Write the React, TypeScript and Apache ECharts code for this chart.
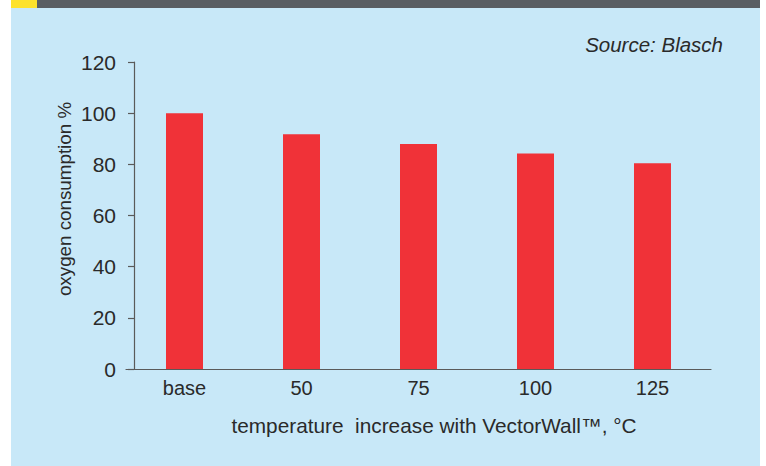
import React, { useEffect, useRef } from "react";
import * as echarts from "echarts";

const categories = ["base", "50", "75", "100", "125"];
const oxygenConsumption = [100, 91.8, 87.9, 84.2, 80.4];
const yTicks = { min: 0, max: 120, interval: 20 };
const xTitle = "temperature  increase with VectorWall™, °C";
const yTitle = "oxygen consumption %";
const sourceText = "Source: Blasch";

const FONT = "'Liberation Sans', Arial, sans-serif";
const TEXT = "#2a2a2a";

export default function App() {
  const ref = useRef<HTMLDivElement>(null);
  useEffect(() => {
    if (!ref.current) return;
    const chart = echarts.init(ref.current, null, { renderer: "svg" });
    chart.setOption({
      animation: false,
      backgroundColor: "#ffffff",
      graphic: [
        { type: "rect", z: -10, shape: { x: 11, y: 0, width: 749, height: 466 }, style: { fill: "#C8E8F8" } },
        { type: "rect", z: -9, shape: { x: 11, y: 0, width: 749, height: 8 }, style: { fill: "#5A5E63" } },
        { type: "rect", z: -8, shape: { x: 11, y: 0, width: 26, height: 8 }, style: { fill: "#FDE22C" } },
        {
          type: "text",
          x: 723,
          y: 44,
          style: { text: sourceText, fill: TEXT, font: `italic 20.5px ${FONT}`, align: "right", verticalAlign: "middle" },
        },
        {
          type: "text",
          x: 434,
          y: 425,
          style: { text: xTitle, fill: TEXT, font: `20.8px ${FONT}`, align: "center", verticalAlign: "middle" },
        },
        {
          type: "text",
          x: 64,
          y: 199,
          rotation: Math.PI / 2,
          style: { text: yTitle, fill: TEXT, font: `18.8px ${FONT}`, align: "center", verticalAlign: "middle" },
        },
      ],
      grid: { left: 126, top: 62, width: 585, height: 307, containLabel: false },
      xAxis: {
        type: "category",
        data: categories,
        boundaryGap: true,
        axisLine: { lineStyle: { color: "#5a5a5a", width: 1.2 } },
        axisTick: { show: false },
        axisLabel: { color: TEXT, fontSize: 20, fontFamily: FONT, margin: 9 },
      },
      yAxis: {
        type: "value",
        min: yTicks.min,
        max: yTicks.max,
        interval: yTicks.interval,
        offset: -8,
        axisLine: { show: true, lineStyle: { color: "#5a5a5a", width: 1.2 } },
        axisTick: { show: true, length: 6, lineStyle: { color: "#5a5a5a", width: 1.2 } },
        splitLine: { show: false },
        axisLabel: { color: TEXT, fontSize: 21, fontFamily: FONT, margin: 18 },
      },
      series: [
        {
          type: "bar",
          data: oxygenConsumption,
          barWidth: 37,
          itemStyle: { color: "#F03238" },
        },
      ],
    });
    return () => chart.dispose();
  }, []);
  return <div ref={ref} style={{ position: "fixed", left: 0, top: 0, width: 766, height: 466 }} />;
}
